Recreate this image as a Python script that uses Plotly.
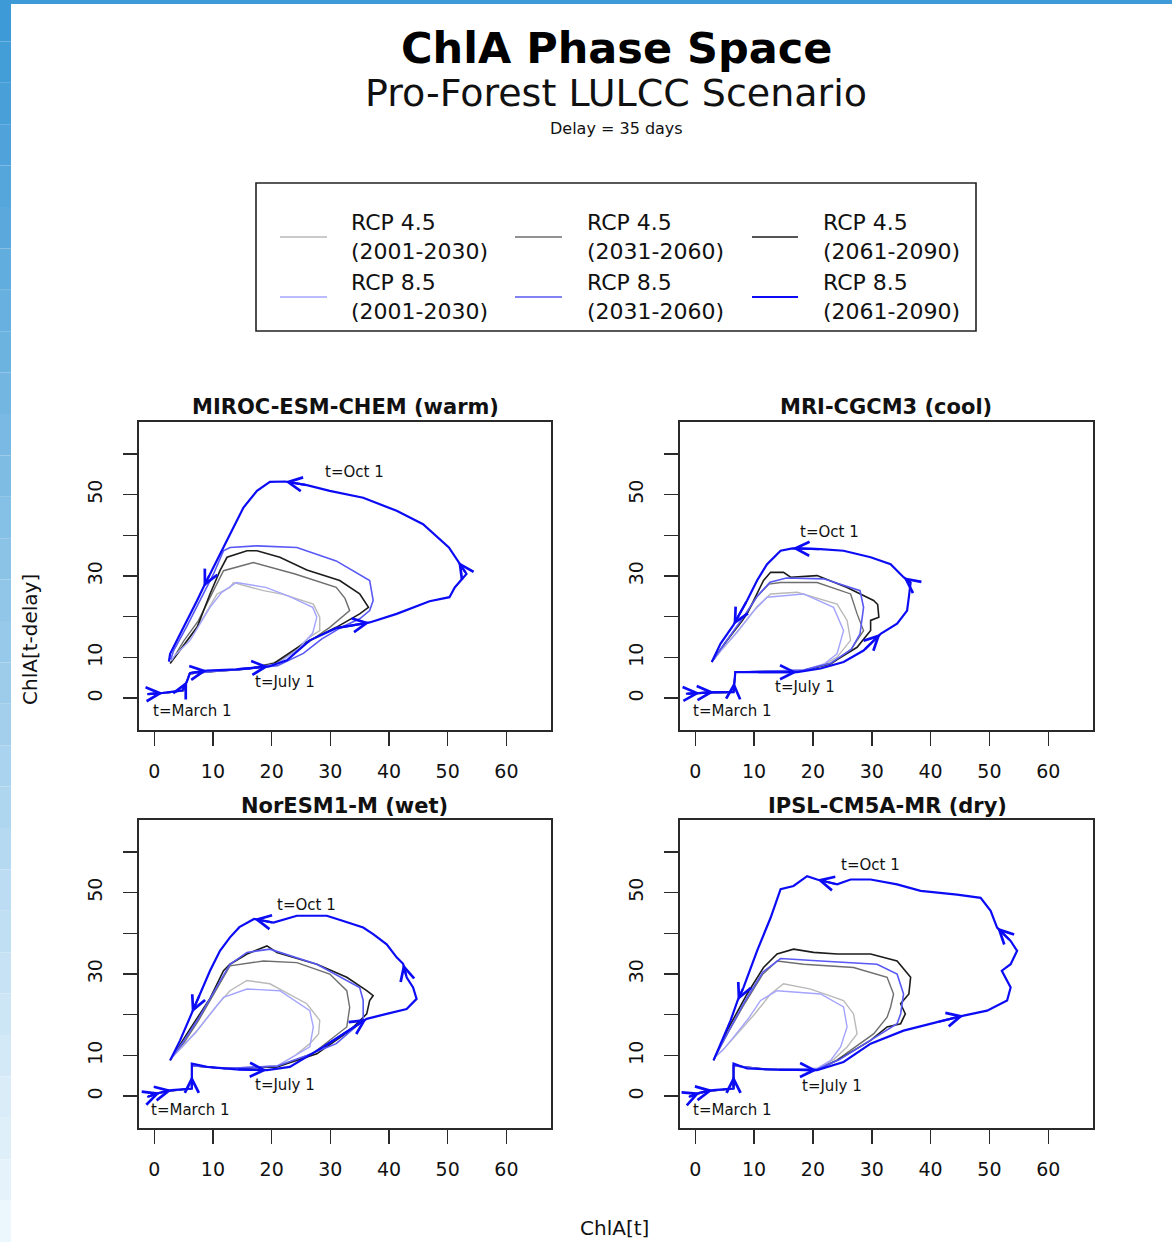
import plotly.graph_objects as go

W, H = 1172, 1242

# ---------------- data ----------------
panel_titles = ["MIROC-ESM-CHEM (warm)", "MRI-CGCM3 (cool)", "NorESM1-M (wet)", "IPSL-CM5A-MR (dry)"]
legend_labels = ["RCP 4.5<br>(2001-2030)", "RCP 4.5<br>(2031-2060)", "RCP 4.5<br>(2061-2090)",
                 "RCP 8.5<br>(2001-2030)", "RCP 8.5<br>(2031-2060)", "RCP 8.5<br>(2061-2090)"]
x_tick_vals = [0, 10, 20, 30, 40, 50, 60]
x_tick_text = ["0", "10", "20", "30", "40", "50", "60"]
y_tick_vals = [0, 10, 20, 30, 40, 50, 60]
y_tick_text = ["0", "10", "", "30", "", "50", ""]
date_labels = ["t=Oct 1", "t=July 1", "t=March 1"]

# MIROC-ESM-CHEM (warm)
MIROC_45_2001 = [(-1.0,1.0),(2,1.3),(5,1.9),(6,6.0),(10,6.6),(16,7.2),(21,9.0),(24.5,12.5),(26.5,15.0),(28.2,16.6),(28.2,19.9),(27.1,23.1),(22,25.5),(18.6,26.4),(13.5,28.4),(12.9,27.2),(10.7,25.6),(8.4,19.9),(6,15),(4.4,11.7),(3.0,9.2)]
MIROC_45_2031 = [(-1.0,1.0),(2,1.3),(5,1.9),(6,6.0),(10,6.6),(16,7.2),(20.5,8.5),(25,12.5),(29.9,17.4),(33.3,21.5),(32.5,24.5),(31.0,27.2),(24,30.5),(16.9,33.3),(11.8,31.3),(10.1,26.4),(7.5,19.0),(5.0,14.0),(2.9,9.0)]
MIROC_45_2061 = [(-1.0,1.0),(2,1.3),(5,1.9),(6,6.0),(10,6.6),(16,7.2),(20.3,8.5),(25.4,13.4),(31.0,17.4),(35.0,20.7),(36.5,22.3),(35.0,25.6),(31.6,28.9),(26,31.5),(21.4,34.6),(17.5,36.2),(15.8,36.2),(12.4,34.6),(11.2,31.3),(9.5,25.6),(7.3,17.4),(5.0,13.0),(2.7,8.5)]
MIROC_85_2001 = [(-1.0,1.0),(2,1.3),(5,1.9),(6,6.0),(10,6.6),(16,7.2),(21,8.5),(24.5,12),(27.0,16.0),(27.7,19.9),(27.0,22.3),(23,25),(19.0,27.2),(14.0,28.4),(11.5,26),(9.5,22.3),(6.1,14.2),(3.5,10.5),(2.9,9.2)]
MIROC_85_2031 = [(-1.0,1.1),(2,1.4),(5,2.0),(6,6.0),(10,6.6),(16,7.2),(21,8.0),(25.4,11),(28.5,14.5),(32,17.5),(35,19.5),(36.7,21.5),(37.3,24.0),(37.0,27.0),(36.7,28.9),(31.0,33.7),(24.3,37.0),(17.5,37.4),(12.9,37.0),(11.8,36.2),(10.1,30.5),(7.8,24.0),(5.5,17.5),(3.3,11.7),(2.8,9.5)]
MIROC_85_2061 = [(-1.2,1.0),(1.5,1.3),(4.8,1.9),(5.6,4.2),(6.1,6.2),(9.0,6.8),(14.0,7.1),(19.5,7.8),(22.6,9.3),(26.5,14.2),(31.0,17.2),(36.7,18.6),(41.3,20.7),(46.9,23.8),(50.3,24.8),(51.2,27.2),(53.2,30.5),(51.8,33.5),(50.2,37.0),(45.8,42.7),(41.3,46.0),(35.6,49.2),(29.9,50.9),(26.0,52.3),(22.3,53.2),(19.7,53.1),(17.5,50.9),(15.2,46.8),(12.9,40.3),(11.2,35.4),(9.5,30.5),(8.4,27.3),(7.3,24.0),(5.0,17.4),(2.7,10.9),(2.5,9.0)]
MIROC_arrows = [1, 3, 5, 7, 11, 17, 24, 31]
MIROC_label_x = [34.2, 22.3, 6.5]
MIROC_label_y = [55.5, 3.9, -3.2]

# MRI-CGCM3 (cool)
MRI_45_2001 = [(-1.2,1.1),(2,1.3),(6.5,1.5),(6.8,6.4),(12,6.6),(18.4,6.9),(22,8.3),(24.1,10.1),(26.4,14.2),(25.8,19.1),(24.1,23.1),(17.3,26.0),(12.8,25.6),(10.5,22.5),(7.5,17),(4.5,12),(3.0,9.3)]
MRI_45_2031 = [(-1.2,1.1),(2,1.3),(6.5,1.5),(6.8,6.4),(12,6.6),(18.4,6.8),(23,8.3),(26.5,12),(28.6,16.6),(27.5,20.7),(26.4,25.6),(20.7,28.4),(14.5,28.4),(12.5,28.0),(10.5,25),(8,19),(5,13.5),(3.0,9.3)]
MRI_45_2061 = [(-1.2,1.1),(2,1.3),(6.5,1.5),(6.8,6.4),(12,6.6),(18.4,6.8),(23,8.5),(27.5,12.5),(29.8,16.6),(29.8,19.1),(31.2,19.9),(31.0,23.0),(30.3,24.0),(25.8,27.2),(20.7,30.1),(16.2,29.7),(15.0,30.9),(12.8,30.9),(11.6,28.9),(8.8,20.7),(5.4,14.2),(2.8,8.9)]
MRI_85_2001 = [(-1.2,1.1),(2,1.3),(6.5,1.5),(6.8,6.4),(12,6.6),(18.4,6.9),(22,8.5),(24.1,10.9),(25.2,16.6),(23.5,22.3),(18.4,25.6),(12.2,24.8),(10,21.5),(7,16),(4.5,12),(3.0,9.3)]
MRI_85_2031 = [(-1.2,1.1),(2,1.3),(6.5,1.5),(6.8,6.4),(12,6.6),(18.4,6.9),(23,8.6),(26.5,12),(28.0,15.8),(28.6,22.3),(28.0,26.4),(21.8,29.3),(15.5,29.5),(12.7,28.5),(10.5,25),(8,19.5),(5,13.5),(3.0,9.3)]
MRI_85_2061 = [(-1.6,1.1),(0.8,1.3),(3.2,1.5),(6.5,1.5),(6.6,4.0),(6.8,6.4),(10.5,6.4),(17.3,6.4),(21.3,7.3),(25.2,8.9),(28.6,11.7),(31.5,15.8),(34.3,18.3),(36.0,21.5),(36.3,24.8),(36.6,28.4),(35.4,29.7),(33.2,32.9),(29.8,34.6),(25.2,36.2),(21.3,36.6),(16.5,36.8),(14.5,36.2),(12.2,32.9),(10.5,28.9),(8.8,24.0),(6.5,18.0),(4.3,13.4),(2.8,8.9)]
MRI_arrows = [1, 2, 4, 7, 11, 16, 21, 26]
MRI_label_x = [22.8, 18.7, 6.3]
MRI_label_y = [40.8, 2.7, -3.2]

# NorESM1-M (wet)
NOR_45_2001 = [(-1.0,0.0),(2,1.2),(6.4,1.9),(6.4,7.5),(12,6.8),(20.9,7.4),(24,10),(26.5,12.9),(28.0,15.3),(28.2,18.6),(26.0,22.7),(19.7,27.6),(15.8,28.4),(12.9,25.9),(10.5,22),(7.5,16.5),(5,12.5),(3.0,9.5)]
NOR_45_2031 = [(-1.0,0.0),(2,1.2),(6.4,1.9),(6.4,7.5),(12,6.8),(20.9,7.2),(27,10.5),(32.8,17.0),(33.3,21.8),(32.8,25.9),(29.9,30.0),(24.3,32.8),(18.6,33.2),(12.9,32.0),(10.5,26),(7.5,18.5),(5,13),(2.9,9.3)]
NOR_45_2061 = [(-1.0,0.0),(2,1.2),(6.4,1.9),(6.4,7.5),(12,6.8),(20.9,7.2),(27.7,10.4),(33.3,16.1),(36.2,20.2),(36.7,23.5),(37.3,24.7),(36.2,25.9),(32.8,29.2),(27.7,32.4),(20.9,35.3),(19.2,36.9),(15.8,34.9),(12.9,32.4),(11.8,30.8),(9.5,24.0),(6.1,16.5),(2.7,8.8)]
NOR_85_2001 = [(-1.0,0.0),(2,1.2),(6.4,1.9),(6.4,7.5),(12,6.8),(20.9,7.4),(24,10),(26.5,12.1),(27.1,17.0),(26.5,21.0),(21.4,25.9),(15.8,26.3),(11.8,24.3),(9.5,20),(7,15.5),(5,12.5),(3.0,9.5)]
NOR_85_2031 = [(-1.0,0.0),(2,1.2),(6.4,1.9),(6.4,7.5),(12,6.8),(21,7.4),(26,10),(31,12.9),(35.6,18.6),(35.6,23.5),(35.0,26.7),(27.7,32.4),(19.7,36.1),(15.8,35.3),(12.9,32.4),(10.5,26.5),(7.5,19),(5,13.5),(2.9,9.3)]
NOR_85_2061 = [(-1.2,-0.2),(1.0,0.9),(3.0,1.5),(6.4,1.9),(6.4,5.0),(6.4,8.0),(9.0,7.2),(14,6.6),(19.2,6.4),(23.1,7.2),(28.8,12.1),(36.2,19.0),(39.6,20.2),(43.0,21.4),(44.7,23.9),(44.1,26.7),(43.0,29.2),(42.4,32.5),(41.3,34.1),(39.6,37.3),(37.3,39.8),(35.6,41.4),(32.2,43.0),(29.4,44.3),(24.3,44.3),(20.3,42.6),(17.0,43.5),(14.5,41.5),(12.9,39.0),(11.2,35.7),(9.5,30.8),(7.8,25.1),(6.4,20.5),(4.4,13.7),(2.7,8.8)]
NOR_arrows = [1, 2, 4, 8, 11, 17, 26, 32]
NOR_label_x = [26.0, 22.3, 6.1]
NOR_label_y = [46.9, 2.7, -3.4]

# IPSL-CM5A-MR (dry)
IPSL_45_2001 = [(-1.0,0.0),(2,1.2),(6.5,1.9),(6.5,7.5),(12,6.6),(20.7,6.8),(23.5,9),(25.8,12.1),(27.5,15.3),(26.9,20.2),(25.2,23.5),(19.6,26.3),(15.0,27.6),(12.8,25.1),(10,20),(7,15),(4.8,11.5),(3.3,9.5)]
IPSL_45_2031 = [(-1.0,0.0),(2,1.2),(6.5,1.9),(6.5,7.5),(12,6.6),(20.7,6.6),(24,8.8),(26.4,11.2),(30.3,15.3),(32.6,19.4),(33.2,21.9),(33.7,25.1),(32.6,29.2),(26.9,31.6),(18.4,32.4),(13.9,33.2),(11.5,30),(8.5,23),(5.5,15.5),(3.2,9.2)]
IPSL_45_2061 = [(-1.0,0.0),(2,1.2),(6.5,1.9),(6.5,7.5),(12,6.6),(20.7,6.5),(24.1,8.8),(29.8,13.7),(32.6,17.0),(34.9,17.8),(35.7,20.2),(34.9,22.7),(36.3,25.1),(36.6,29.2),(34.3,33.2),(29.8,34.9),(24.1,34.9),(20.1,35.3),(16.7,36.1),(13.9,34.9),(11.6,31.6),(8.8,25.1),(5.4,16.1),(3.1,8.8)]
IPSL_85_2001 = [(-1.0,0.0),(2,1.2),(6.5,1.9),(6.5,7.5),(12,6.6),(20.7,6.8),(23,8.8),(24.7,12.1),(25.8,17.0),(25.2,21.9),(21.3,25.1),(13.9,25.9),(11.1,23.5),(9,19),(6.5,14.5),(4.8,11.5),(3.3,9.5)]
IPSL_85_2031 = [(-1.0,0.0),(2,1.2),(6.5,1.9),(6.5,7.5),(12,6.6),(20.7,6.6),(24.5,9),(29.8,13.7),(34.3,17.8),(34.9,20.2),(35.4,25.1),(34.3,30.0),(30.9,32.4),(21.3,33.2),(14.5,33.8),(11.5,30.5),(8.5,23.5),(5.5,15.5),(3.2,9.2)]
IPSL_85_2061 = [(-1.1,-0.2),(0.8,0.9),(3.0,1.5),(6.5,1.9),(6.5,5.0),(6.5,8.0),(8.8,6.8),(14,6.5),(20.7,6.4),(25.2,8.4),(29.8,12.9),(35.4,16.1),(41.1,18.2),(45.6,19.8),(49.6,21.0),(53.0,23.5),(53.6,26.7),(52.1,30.8),(53.6,32.4),(54.7,35.7),(53.6,38.1),(51.3,41.4),(50.2,45.5),(48.5,48.7),(44.5,49.5),(38.3,50.4),(34.3,52.0),(29.8,53.2),(26.4,53.2),(24.1,52.0),(20.7,53.2),(19.0,54.0),(16.7,51.6),(14.5,50.8),(12.8,43.8),(10.5,35.7),(8.2,26.7),(7.2,23.5),(6.0,18.6),(3.1,8.8)]
IPSL_arrows = [1, 2, 4, 8, 13, 21, 30, 37]
IPSL_label_x = [29.8, 23.3, 6.3]
IPSL_label_y = [56.7, 2.4, -3.4]

# ---------------- styles ----------------
series_styles = [  # colour, width (legend order)
    ("#b9b9b9", 1.4), ("#6e6e6e", 1.4), ("#1c1c1c", 1.6),
    ("#a4a4ff", 1.4), ("#5858f4", 1.6), ("#0b0bf5", 2.2),
]
FONT = "DejaVu Sans"

panels = [
    dict(series=[MIROC_45_2001, MIROC_45_2031, MIROC_45_2061, MIROC_85_2001, MIROC_85_2031, MIROC_85_2061],
         arrows=MIROC_arrows, lx=MIROC_label_x, ly=MIROC_label_y),
    dict(series=[MRI_45_2001, MRI_45_2031, MRI_45_2061, MRI_85_2001, MRI_85_2031, MRI_85_2061],
         arrows=MRI_arrows, lx=MRI_label_x, ly=MRI_label_y),
    dict(series=[NOR_45_2001, NOR_45_2031, NOR_45_2061, NOR_85_2001, NOR_85_2031, NOR_85_2061],
         arrows=NOR_arrows, lx=NOR_label_x, ly=NOR_label_y),
    dict(series=[IPSL_45_2001, IPSL_45_2031, IPSL_45_2061, IPSL_85_2001, IPSL_85_2031, IPSL_85_2061],
         arrows=IPSL_arrows, lx=IPSL_label_x, ly=IPSL_label_y),
]

# panel boxes in page pixels: (left, right, top, bottom)
boxes = [(139, 551, 422, 730), (680, 1093, 422, 730), (139, 551, 820, 1128), (680, 1093, 820, 1128)]
title_pos = [(345, 407), (886, 407), (344, 806), (887, 806)]


def px(x):
    return x / W


def py(y):
    return 1 - y / H


def note(x, y, text, size, **kw):
    d = dict(x=px(x), y=py(y), xref="paper", yref="paper", text=text, showarrow=False,
             xanchor="center", yanchor="middle", font=dict(family=FONT, size=size, color="#111"))
    d.update(kw)
    return d


fig = go.Figure()
annotations = []
shapes = []
layout_axes = {}

for i, (pan, box) in enumerate(zip(panels, boxes)):
    n = "" if i == 0 else str(i + 1)
    xr, yr = "x" + n, "y" + n
    for pts, (col, lw) in zip(pan["series"], series_styles):
        fig.add_trace(go.Scatter(x=[p[0] for p in pts], y=[p[1] for p in pts], mode="lines",
                                 line=dict(color=col, width=lw), xaxis=xr, yaxis=yr,
                                 showlegend=False, hoverinfo="skip"))
    main = pan["series"][5]
    for k in pan["arrows"]:
        annotations.append(dict(x=main[k][0], y=main[k][1], ax=main[k - 1][0], ay=main[k - 1][1],
                                xref=xr, yref=yr, axref=xr, ayref=yr, text="", showarrow=True,
                                arrowhead=5, arrowsize=1.25, arrowwidth=2.2,
                                arrowcolor=series_styles[5][0], standoff=0, startstandoff=0))
    for t, lx, ly in zip(date_labels, pan["lx"], pan["ly"]):
        annotations.append(dict(x=lx, y=ly, xref=xr, yref=yr, text=t, showarrow=False,
                                xanchor="center", yanchor="middle",
                                font=dict(family=FONT, size=15, color="#111")))
    l, r, t_, b = box
    axcommon = dict(showline=True, mirror=True, linecolor="#2a2a2a", linewidth=1.6,
                    ticks="outside", ticklen=14, tickwidth=1.5, tickcolor="#2a2a2a",
                    showgrid=False, zeroline=False, fixedrange=True,
                    tickfont=dict(family=FONT, size=19, color="#111"))
    layout_axes["xaxis" + n] = dict(domain=[px(l), px(r)], range=[-2.6, 67.6], anchor=yr,
                                    tickvals=x_tick_vals, ticktext=x_tick_text,
                                    ticklabelstandoff=10, **axcommon)
    layout_axes["yaxis" + n] = dict(domain=[py(b), py(t_)], range=[-7.8, 67.8], anchor=xr,
                                    tickvals=y_tick_vals, ticktext=y_tick_text, tickangle=-90,
                                    ticklabelstandoff=14, **axcommon)
    tx, ty = title_pos[i]
    annotations.append(note(tx, ty, "<b>%s</b>" % panel_titles[i], 21))

# titles
annotations += [
    note(616, 48, "<b>ChlA Phase Space</b>", 43, font=dict(family=FONT, size=43, color="#000")),
    note(616, 93, "Pro-Forest LULCC Scenario", 38),
    note(616, 128, "Delay = 35 days", 16),
    note(614, 1228, "ChlA[t]", 20),
    note(30, 640, "ChlA[t-delay]", 20, textangle=-90),
]

# legend drawn as box + samples + text
shapes.append(dict(type="rect", xref="paper", yref="paper", x0=px(256), x1=px(976), y0=py(331), y1=py(183),
                   line=dict(color="#222", width=1.6), fillcolor="rgba(0,0,0,0)"))
leg_cols = [(280, 327, 349), (515, 562, 585), (752, 798, 821)]
leg_rows = [237, 297]
for j, (lab, (col, lw)) in enumerate(zip(legend_labels, series_styles)):
    c0, c1, tx = leg_cols[j % 3]
    yy = leg_rows[j // 3]
    shapes.append(dict(type="line", xref="paper", yref="paper", x0=px(c0), x1=px(c1), y0=py(yy), y1=py(yy),
                       line=dict(color=col, width=lw)))
    annotations.append(note(tx, yy, lab, 22, xanchor="left", align="left"))

# page border (blue frame of the screenshot)
shapes.append(dict(type="rect", xref="paper", yref="paper", x0=0, x1=1, y0=py(4), y1=1,
                   line=dict(width=0), fillcolor="rgb(62,155,215)"))
nseg = 30
for s in range(nseg):
    f = s / (nseg - 1)
    c = tuple(int(a + (b_ - a) * f) for a, b_ in zip((61, 154, 214), (236, 246, 253)))
    shapes.append(dict(type="rect", xref="paper", yref="paper", x0=0, x1=px(11),
                       y0=py((s + 1) * H / nseg), y1=py(s * H / nseg),
                       line=dict(width=0), fillcolor="rgb(%d,%d,%d)" % c))

fig.update_layout(width=W, height=H, margin=dict(l=0, r=0, t=0, b=0),
                  paper_bgcolor="white", plot_bgcolor="white",
                  annotations=annotations, shapes=shapes, showlegend=False, **layout_axes)

fig.write_html("out.html", config={"displayModeBar": False, "staticPlot": True},
               post_script="document.body.style.margin='0';document.body.style.overflow='hidden';")
